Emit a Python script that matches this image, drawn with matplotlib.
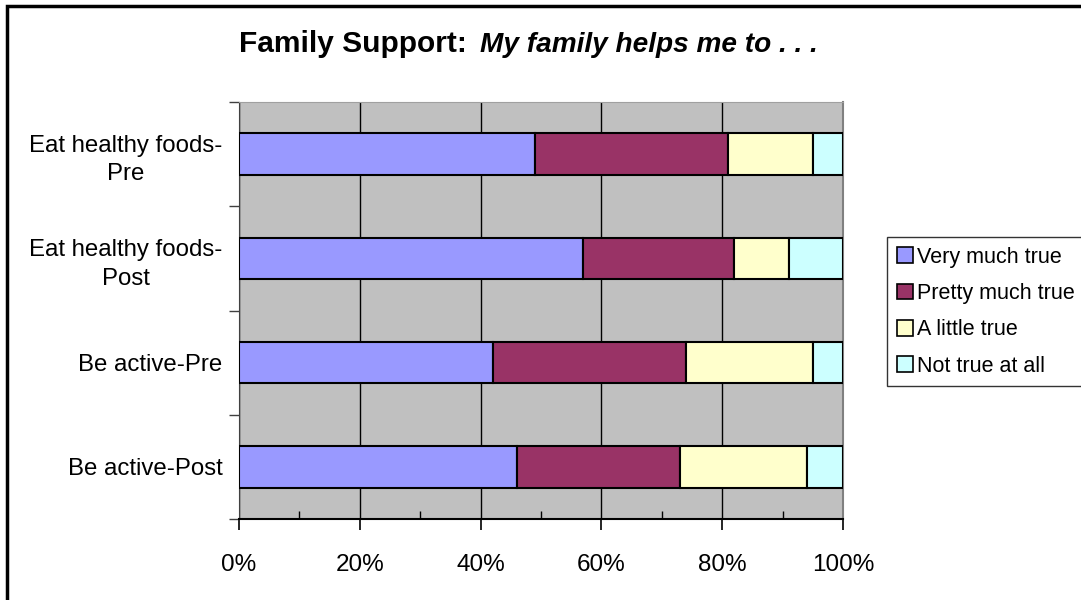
import numpy as np
import matplotlib
matplotlib.use("Agg")
from matplotlib import pyplot as plt
from matplotlib.patches import Rectangle
from matplotlib.ticker import PercentFormatter, MultipleLocator

plt.rcParams['font.family'] = ['Liberation Sans', 'DejaVu Sans']

# data
categories = ["Eat healthy foods-\nPre", "Eat healthy foods-\nPost", "Be active-Pre", "Be active-Post"]
series_names = ["Very much true", "Pretty much true", "A little true", "Not true at all"]
very_much = [49, 57, 42, 46]
pretty_much = [32, 25, 32, 27]
a_little = [14, 9, 21, 21]
not_at_all = [5, 9, 5, 6]
colors = ["#9999FF", "#993366", "#FFFFCC", "#CCFFFF"]

W, H = 1081, 600
fig = plt.figure(figsize=(W / 100, H / 100), dpi=100)

# plot area in pixels: left 239, right 843, top 102, bottom 519
ax = fig.add_axes([239 / W, 1 - 519 / H, (843 - 239) / W, (519 - 102) / H])
ax.set_facecolor("#C0C0C0")

y = np.arange(len(categories))
left = np.zeros(len(categories))
for vals, name, c in zip([very_much, pretty_much, a_little, not_at_all], series_names, colors):
    v = np.array(vals) / 100.0
    ax.barh(y, v, left=left, height=0.4, color=c, edgecolor="black", linewidth=1.5, label=name, zorder=3)
    left = left + v

ax.set_xlim(0, 1)
ax.set_ylim(3.5, -0.5)

# grid
ax.xaxis.set_major_locator(MultipleLocator(0.2))
ax.xaxis.set_minor_locator(MultipleLocator(0.1))
ax.xaxis.set_major_formatter(PercentFormatter(1.0, decimals=0))
ax.grid(axis="x", which="major", color="black", linewidth=1.0, zorder=1)
ax.set_axisbelow(True)

ax.tick_params(axis="x", which="major", direction="out", length=8, width=1.2, pad=17, labelsize=17.5)
ax.tick_params(axis="x", which="minor", direction="in", length=6, width=1.0)

ax.set_yticks(y)
ax.set_yticklabels(categories)
ax.set_yticks(np.arange(-0.5, 4, 1), minor=True)
ax.tick_params(axis="y", which="major", length=0, pad=12, labelsize=17.3)
ax.tick_params(axis="y", which="minor", direction="out", length=7, width=1.0, color="#404040")
for t in ax.get_yticklabels():
    t.set_multialignment("center")
    t.set_linespacing(1.4)

ax.spines["left"].set_color("#404040")
ax.spines["bottom"].set_color("black")
ax.spines["bottom"].set_linewidth(1.5)
ax.spines["top"].set_color("#A0A0A0")
ax.spines["right"].set_color("#808080")
ax.spines["right"].set_linewidth(1.5)

# title (bold + bold italic part)
fig.text(467 / W, 1 - 52 / H, "Family Support:", fontsize=21.5, fontweight="bold", ha="right", va="baseline")
fig.text(480 / W, 1 - 52 / H, "My family helps me to . . .", fontsize=20.2, fontweight="bold",
         fontstyle="italic", ha="left", va="baseline")

# legend
leg = fig.legend(loc="upper left", bbox_to_anchor=(887 / W, 1 - 237 / H), fontsize=15.5,
                 frameon=True, fancybox=False, edgecolor="black", borderaxespad=0,
                 handlelength=0.75, handleheight=0.75, handletextpad=0.2,
                 borderpad=0.45, labelspacing=0.71)
leg.get_frame().set_linewidth(1.0)
for p in leg.get_patches():
    p.set_linewidth(1.2)

# outer chart border
fig.patches.append(Rectangle((7 / W, -0.05), 1.2, 1 - 6 / H + 0.05, transform=fig.transFigure,
                             fill=False, edgecolor="black", linewidth=2.5))

fig.savefig("out.png", dpi=100)
